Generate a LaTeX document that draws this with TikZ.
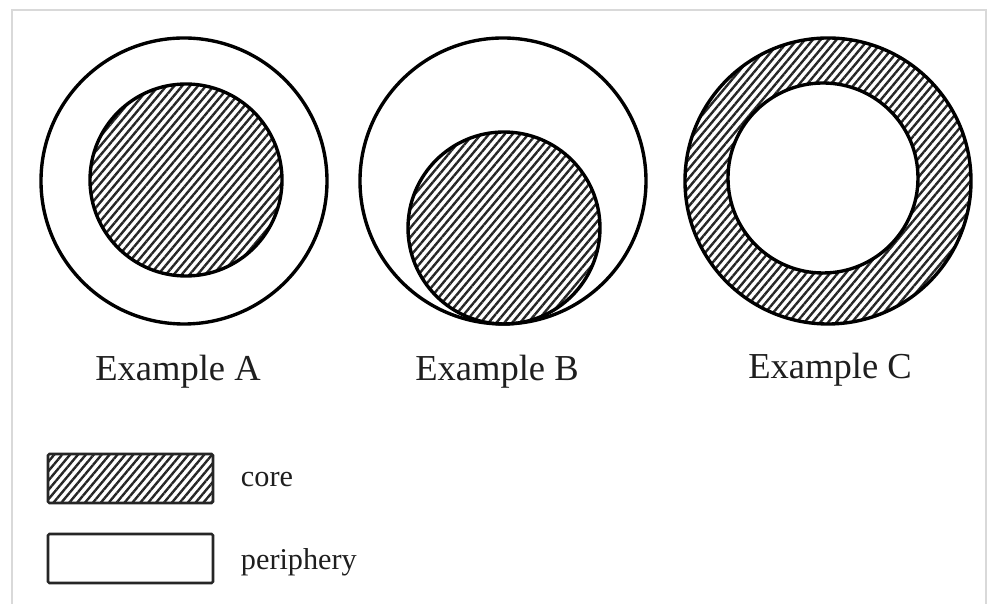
\documentclass[tikz,border=0pt]{standalone}
\usepackage{fontspec}
\setmainfont{Liberation Serif}
\usepackage{xcolor}
\usepackage{tikz}
\usetikzlibrary{patterns.meta, positioning}
\definecolor{textgray}{RGB}{30,30,30}

\tikzset{
  ring/.style={draw=black, line width=2.4pt},
  corefill/.style={pattern={Lines[angle=50, distance=4.3pt, line width=1.7pt]}, pattern color=black!85},
  keybox/.style={draw=black!85, line width=1.8pt, rounded corners=1pt},
  caption/.style={font=\fontsize{26}{30}\selectfont, text=textgray, anchor=base},
  keytext/.style={font=\fontsize{21.5}{26}\selectfont, text=textgray, anchor=base west}
}

\begin{document}
\begin{tikzpicture}[scale=1.0]
  \useasboundingbox (0,0) rectangle (24.725,15.1);
  % page edge
  \draw[black!15, line width=1.5pt] (0.3,0) -- (0.3,14.85) -- (24.65,14.85) -- (24.65,0);
  % example A: core in the middle
  \draw[ring] (4.6,10.575) circle (3.575);
  \filldraw[ring, corefill] (4.65,10.6) circle (2.4);
  % example B: core sitting low
  \draw[ring] (12.575,10.575) circle (3.575);
  \filldraw[ring, corefill] (12.6,9.4) circle (2.4);
  % example C: periphery inside the core
  \filldraw[ring, corefill] (20.7,10.575) circle (3.575);
  \filldraw[ring, fill=white] (20.575,10.65) circle (2.375);
  \node[caption] (capA) at (4.45,5.575) {Example A};
  \node[caption] (capB) at (12.425,5.575) {Example B};
  \node[caption] (capC) at (20.75,5.625) {Example C};
  % legend
  \filldraw[keybox, corefill] (1.2,2.525) rectangle (5.325,3.75);
  \draw[keybox, fill=white] (1.2,0.525) rectangle (5.325,1.75);
  \node[keytext] (coreLbl) at (5.9,2.925) {core};
  \node[keytext] (periLbl) at (5.9,0.85) {periphery};
\end{tikzpicture}
\end{document}
